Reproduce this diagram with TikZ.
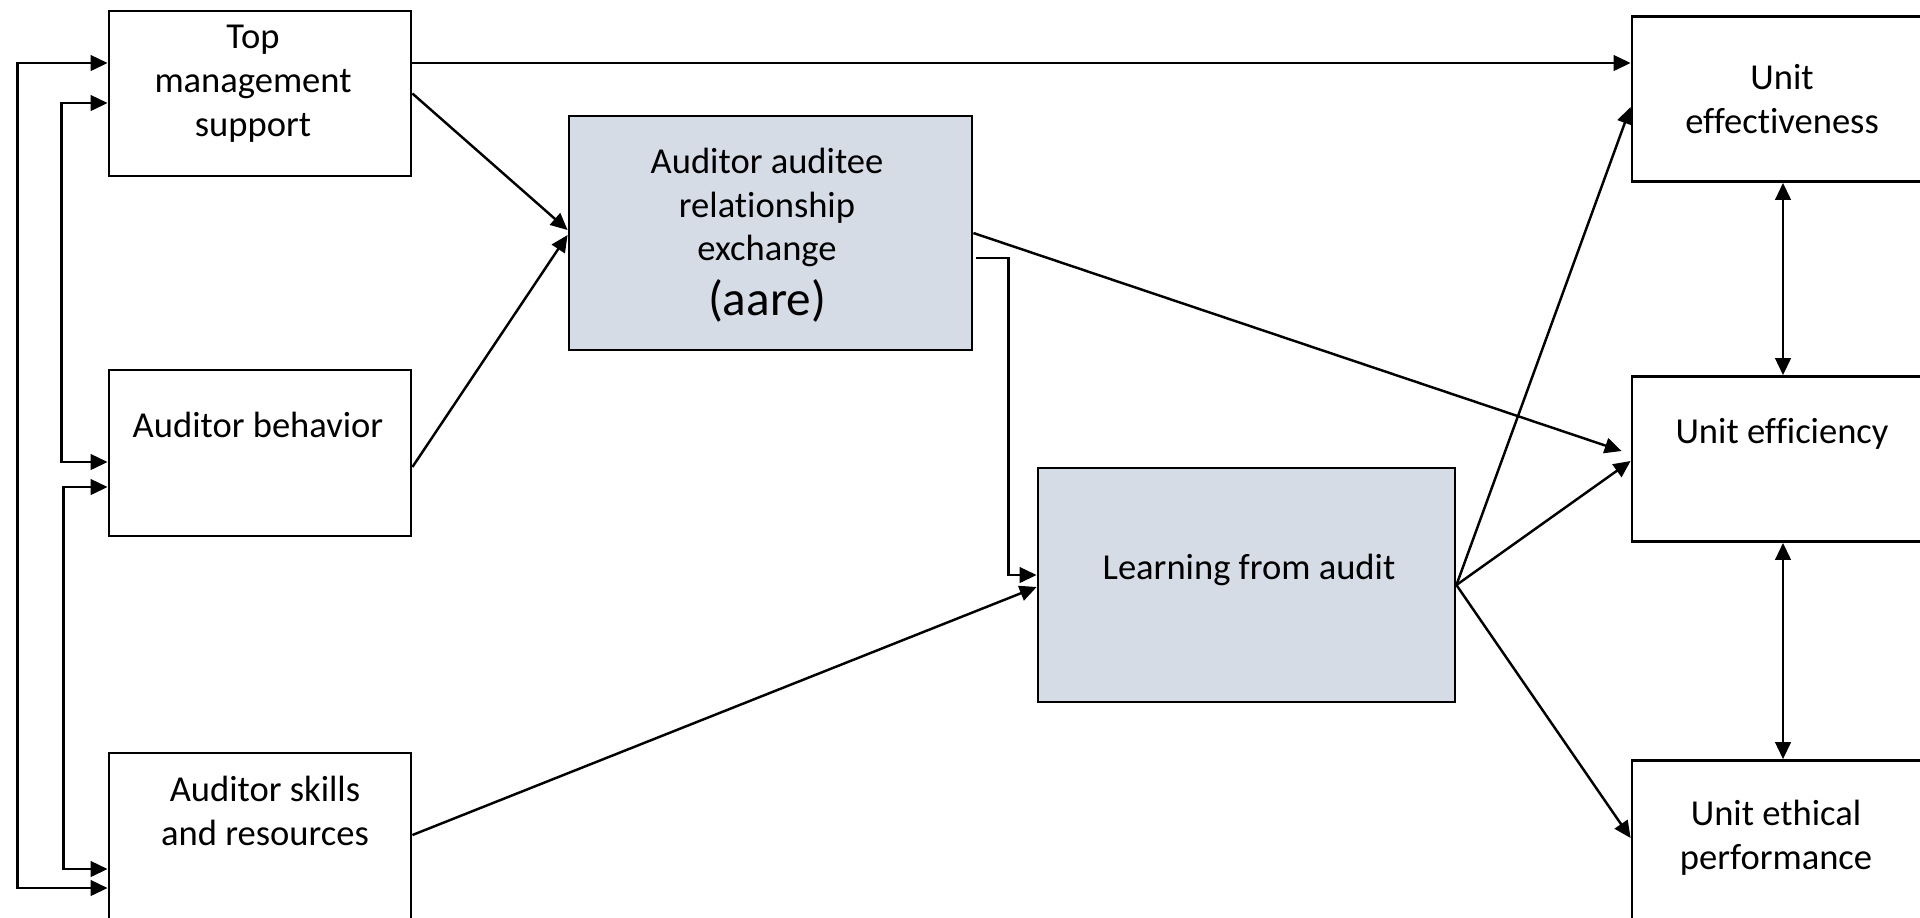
\documentclass[tikz,border=0pt]{standalone}
\usepackage{fontspec}
\setmainfont{Carlito}[Ligatures=NoCommon]
\usepackage{tikz}
\usetikzlibrary{arrows.meta}
\definecolor{medfill}{RGB}{214,220,229}
\tikzstyle{model}=[line width=0.7pt, font=\fontsize{10.4}{12.5}\selectfont]
\tikzstyle{box}=[draw, line width=0.8pt, rectangle, inner sep=0pt, minimum width=3.02cm, minimum height=1.65cm]
\tikzstyle{med}=[box, fill=medfill, minimum height=2.34cm]
\tikzstyle{txt}=[align=center, inner sep=0pt]
\tikzstyle{edge}=[-{Triangle[length=4.8pt,width=4.4pt]}]
\tikzstyle{mutual}=[{Triangle[length=4.8pt,width=4.4pt]}-{Triangle[length=4.8pt,width=4.4pt]}]

\begin{document}
\begin{tikzpicture}[model]
\useasboundingbox (0,0) rectangle (19.2,-9.17);

%Antecedents
\draw (2.60,-0.935) node[box] (tms) {};
\draw (2.60,-4.53) node[box, minimum height=1.66cm] (beh) {};
\draw (2.60,-8.36) node[box, minimum height=1.66cm] (skl) {};
\node[txt] (tmsT) at (2.53,-0.84) {Top\\management\\support};
\node[txt] (behT) at (2.58,-4.25) {Auditor behavior};
\node[txt] (sklT) at (2.65,-8.105) {Auditor skills\\and resources};

%Mediators
\draw (7.705,-2.33) node[med, minimum width=4.03cm] (aare) {};
\draw (12.465,-5.85) node[med, minimum width=4.17cm] (lfa) {};
\node[txt] (aareT) at (7.67,-2.35) {Auditor auditee\\relationship\\exchange\\[3pt]{\fontsize{14}{17}\selectfont (aare)}};
\node[txt] (lfaT) at (12.49,-5.70) {Learning from audit};

%Outcomes
\draw (17.83,-0.99) node[box] (eff) {};
\draw (17.83,-4.59) node[box] (efc) {};
\draw (17.83,-8.43) node[box] (eth) {};
\node[txt] (effT) at (17.82,-0.995) {Unit\\effectiveness};
\node[txt] (efcT) at (17.82,-4.34) {Unit efficiency};
\node[txt] (ethT) at (17.76,-8.375) {Unit ethical\\performance};

%Paths
\draw[edge] ([yshift=0.305cm]tms.east) -- ([yshift=0.36cm]eff.west);
\draw[edge] (tms.east) -- ([yshift=0.03cm]aare.west);
\draw[edge] ([yshift=-0.14cm]beh.east) -- ([yshift=-0.02cm]aare.west);
\draw[edge] (aare.east) -- ([xshift=-0.09cm,yshift=0.08cm]efc.west);
\draw[edge] ([xshift=0.03cm,yshift=-0.25cm]aare.east) -- ++(0.32,0) |- ([yshift=0.10cm]lfa.west);
\draw[edge] ([yshift=0.01cm]skl.east) -- ([yshift=-0.02cm]lfa.west);
\draw[edge] (lfa.east) -- ([yshift=-0.08cm]eff.west);
\draw[edge] (lfa.east) -- ([yshift=-0.02cm]efc.west);
\draw[edge] (lfa.east) -- ([yshift=0.05cm]eth.west);
\draw[mutual] (eff) -- (efc);
\draw[mutual] (efc) -- (eth);

%Links between the antecedents
\draw[mutual] ([yshift=0.305cm]tms.west) -- ++(-0.90,0) |- ([yshift=-0.52cm]skl.west);
\draw[mutual] ([yshift=-0.095cm]tms.west) -- ++(-0.46,0) |- ([yshift=-0.09cm]beh.west);
\draw[mutual] ([yshift=-0.34cm]beh.west) -- ++(-0.44,0) |- ([yshift=-0.33cm]skl.west);
\end{tikzpicture}
\end{document}
